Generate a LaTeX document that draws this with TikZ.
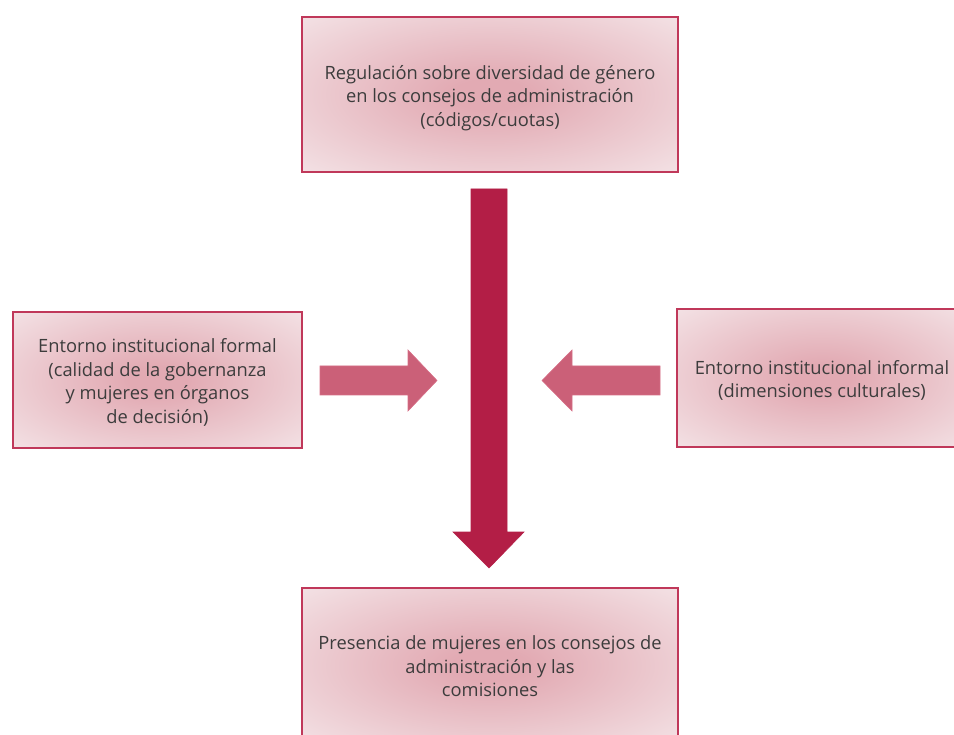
\documentclass[tikz,border=0pt]{standalone}
\usepackage{fontspec}
\setmainfont{Open Sans}
\usetikzlibrary{calc}
\definecolor{boxedge}{RGB}{192,56,90}
\definecolor{boxin}{RGB}{226,170,179}
\definecolor{boxout}{RGB}{244,228,231}
\definecolor{darkarrow}{RGB}{179,30,70}
\definecolor{lightarrow}{RGB}{203,96,120}
\definecolor{lightarrowedge}{RGB}{214,110,134}
\definecolor{txt}{RGB}{60,60,60}
\pgfdeclareradialshading{boxshade}{\pgfpoint{0bp}{0bp}}{color(0bp)=(boxin); color(5bp)=(boxin); color(37bp)=(boxout); color(50bp)=(boxout)}
\begin{document}
\begin{tikzpicture}[x=1pt,y=-1pt,
  infobox/.style={draw=boxedge,line width=1.2pt,shading=boxshade,inner sep=0pt},
  boxtext/.style={text=txt,align=center,font=\fontsize{18.3}{23.5}\selectfont,inner sep=0pt},
  bigarrow/.style={fill=darkarrow,draw=darkarrow,line width=0.6pt},
  sidearrow/.style={fill=lightarrow,draw=lightarrowedge,line width=0.6pt}]
\useasboundingbox (0,0) rectangle (954,735);
\clip (0,0) rectangle (954,735);
\node[infobox,minimum width=376pt,minimum height=155pt] (top) at (490,94.5) {};
\node[boxtext] (toptext) at ([yshift=-3.5pt]top.center)
  {Regulación sobre diversidad de género\\en los consejos de administración\\(códigos/cuotas)};
\node[infobox,minimum width=289pt,minimum height=136pt] (left) at (157.5,380) {};
\node[boxtext] (lefttext) at ([yshift=-2.5pt]left.center)
  {Entorno institucional formal\\(calidad de la gobernanza\\y mujeres en órganos\\de decisión)};
\node[infobox,minimum width=290pt,minimum height=138pt] (right) at (822,378) {};
\node[boxtext] (righttext) at ([yshift=-2.5pt]right.center)
  {Entorno institucional informal\\(dimensiones culturales)};
\node[infobox,minimum width=376pt,minimum height=155pt] (bottom) at (490,665.5) {};
\node[boxtext] (bottomtext) at ([yshift=-1pt]bottom.center)
  {Presencia de mujeres en los consejos de\\administración y las\\comisiones};
% vertical arrow
\coordinate (vtop) at (489,189);
\coordinate (vtip) at (489,568);
\draw[bigarrow] ($(vtop)+(-18,0)$) -- ($(vtop)+(18,0)$) -- (507,532) -- (524,532) -- (vtip)
  -- (453,532) -- (471,532) -- cycle;
% side arrows
\coordinate (ltip) at (437,380.5);
\coordinate (rtip) at (542,380.5);
\draw[sidearrow] (320,366) -- (408,366) -- (408,350) -- (ltip) -- (408,411) -- (408,395) -- (320,395) -- cycle;
\draw[sidearrow] (660,366) -- (572,366) -- (572,350) -- (rtip) -- (572,411) -- (572,395) -- (660,395) -- cycle;
\end{tikzpicture}
\end{document}
